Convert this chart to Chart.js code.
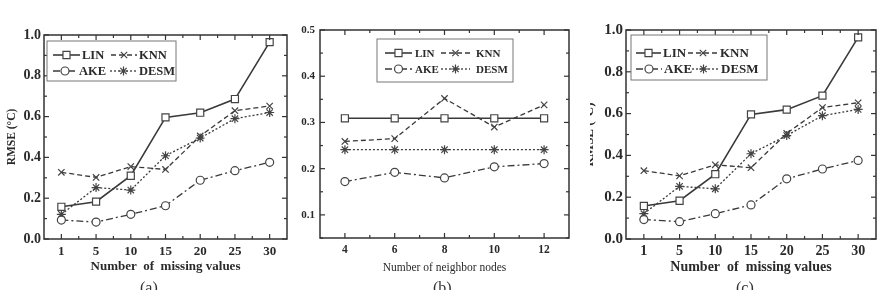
<!DOCTYPE html>
<html>
<head>
<meta charset="utf-8">
<script src="https://cdn.jsdelivr.net/npm/chart.js@4/dist/chart.umd.min.js"></script>
<style>
html, body { margin: 0; padding: 0; background: #fff; width: 886px; height: 290px; overflow: hidden; }
.panel { position: absolute; top: 0; height: 290px; overflow: hidden; }
.panel canvas { position: absolute; top: 0; }
.cap { position: absolute; top: 279px; font: 16px "Liberation Serif", serif; color: #333; }
</style>
</head>
<body>
<div class="panel" style="left:0;width:295px"><canvas id="chartA" width="295" height="290" style="left:0"></canvas></div>
<div class="panel" style="left:295px;width:295px"><canvas id="chartB" width="295" height="290" style="left:0"></canvas></div>
<div class="panel" style="left:590px;width:296px"><canvas id="chartC" width="304" height="290" style="left:-8px"></canvas></div>
<div class="cap" style="left:140px">(a)</div>
<div class="cap" style="left:433px">(b)</div>
<div class="cap" style="left:736px">(c)</div>
<script>
// panels (a) and (c): RMSE vs number of missing values
const missingCounts = ['1', '5', '10', '15', '20', '25', '30'];
const linMissing  = [0.158, 0.183, 0.31, 0.596, 0.619, 0.686, 0.965];
const knnMissing  = [0.327, 0.302, 0.355, 0.341, 0.505, 0.629, 0.652];
const akeMissing  = [0.093, 0.083, 0.121, 0.163, 0.288, 0.335, 0.376];
const desmMissing = [0.121, 0.252, 0.240, 0.408, 0.495, 0.590, 0.620];
const rmseTicksMissing = [0, 0.2, 0.4, 0.6, 0.8, 1.0];

// panel (b): RMSE vs number of neighbor nodes
const neighborCounts = ['4', '6', '8', '10', '12'];
const linNeighbor  = [0.309, 0.309, 0.309, 0.309, 0.309];
const knnNeighbor  = [0.259, 0.265, 0.352, 0.290, 0.338];
const akeNeighbor  = [0.172, 0.192, 0.180, 0.204, 0.211];
const desmNeighbor = [0.241, 0.241, 0.241, 0.241, 0.241];
const rmseTicksNeighbor = [0.1, 0.2, 0.3, 0.4, 0.5];

const methodNames = ['LIN', 'KNN', 'AKE', 'DESM'];

const LINE = '#3a3a3a';
const SERIF = '"Liberation Serif", "Times New Roman", serif';

const seriesStyle = {
    LIN:  { dash: [],           point: 'rect',     r: 5,   w: 1.6 },
    KNN:  { dash: [5, 3],       point: 'crossRot', r: 4.5, w: 1.3 },
    AKE:  { dash: [7, 3, 2, 3], point: 'circle',   r: 4,   w: 1.3 },
    DESM: { dash: [2, 2],       point: 'star',     r: 4.5, w: 1.3 }
};

function makeDatasets(values) {
    return methodNames.map((name, i) => {
        const s = seriesStyle[name];
        return {
            label: name,
            data: values[i],
            borderColor: LINE,
            borderWidth: s.w,
            borderDash: s.dash,
            pointStyle: s.point,
            pointRadius: s.r,
            pointBorderWidth: 1.2,
            pointBorderColor: '#444',
            pointBackgroundColor: '#fff',
            tension: 0,
            fill: false
        };
    });
}

// frame with inward ticks on all four sides + boxed legend with line samples
const framePlugin = {
    id: 'frame',
    afterDatasetsDraw(chart, args, opts) {
        const ctx = chart.ctx;
        const a = chart.chartArea;
        const xs = chart.scales.x, ys = chart.scales.y;
        ctx.save();
        ctx.strokeStyle = '#333';
        ctx.lineWidth = 1.5;
        ctx.setLineDash([]);
        ctx.strokeRect(a.left, a.top, a.right - a.left, a.bottom - a.top);

        ctx.lineWidth = 1.2;
        const yt = ys.ticks.map(t => t.value);
        const tick = (x0, y0, x1, y1) => { ctx.beginPath(); ctx.moveTo(x0, y0); ctx.lineTo(x1, y1); ctx.stroke(); };
        yt.forEach((v, i) => {
            const y = ys.getPixelForValue(v);
            tick(a.left, y, a.left + 5, y);
            tick(a.right, y, a.right - 5, y);
            const mid = i > 0 ? (v + yt[i - 1]) / 2 : v - (yt[1] - yt[0]) / 2;
            if (mid >= ys.min) {
                const ym = ys.getPixelForValue(mid);
                tick(a.left, ym, a.left + 3, ym);
                tick(a.right, ym, a.right - 3, ym);
            }
        });
        const n = chart.data.labels.length;
        for (let i = 0; i < n; i++) {
            const x = xs.getPixelForValue(i);
            tick(x, a.bottom, x, a.bottom - 5);
            tick(x, a.top, x, a.top + 5);
            if (i < n - 1) {
                const xm = (x + xs.getPixelForValue(i + 1)) / 2;
                tick(xm, a.bottom, xm, a.bottom - 3);
                tick(xm, a.top, xm, a.top + 3);
            }
        }

        // legend
        const L = opts.legend;
        ctx.fillStyle = '#fff';
        ctx.fillRect(L.box[0], L.box[1], L.box[2], L.box[3]);
        ctx.strokeStyle = '#777';
        ctx.lineWidth = 1;
        ctx.strokeRect(L.box[0], L.box[1], L.box[2], L.box[3]);
        ctx.font = L.font;
        ctx.textBaseline = 'middle';
        ctx.textAlign = 'left';
        chart.data.datasets.forEach((ds, i) => {
            const col = L.cols[i];
            const y = L.rows[Math.floor(i / 2)];
            ctx.strokeStyle = ds.borderColor;
            ctx.lineWidth = ds.borderWidth;
            ctx.setLineDash(ds.borderDash);
            tick(col[0], y, col[1], y);
            ctx.setLineDash([]);
            ctx.fillStyle = '#fff';
            ctx.strokeStyle = ds.pointBorderColor;
            ctx.lineWidth = ds.pointBorderWidth;
            Chart.helpers.drawPoint(ctx, {
                pointStyle: ds.pointStyle, radius: ds.pointRadius,
                borderWidth: ds.pointBorderWidth, rotation: 0
            }, (col[0] + col[1]) / 2, y);
            ctx.fillStyle = '#2a2a2a';
            ctx.fillText(ds.label, col[2], y + 1);
        });
        ctx.restore();
    }
};

function makeChart(id, cfg) {
    return new Chart(document.getElementById(id), {
        type: 'line',
        data: { labels: cfg.labels, datasets: makeDatasets(cfg.values) },
        options: {
            responsive: false,
            animation: false,
            events: [],
            layout: { padding: cfg.padding },
            plugins: {
                legend: { display: false },
                title: { display: false },
                tooltip: { enabled: false },
                frame: { legend: cfg.legend }
            },
            scales: {
                x: {
                    type: 'category',
                    offset: true,
                    grid: { display: false, drawTicks: false },
                    border: { display: false },
                    ticks: { color: '#2a2a2a', font: cfg.xTickFont, padding: cfg.xTickPad, maxRotation: 0 },
                    title: { display: true, text: cfg.xTitle, color: '#2a2a2a', font: cfg.xTitleFont,
                             padding: { top: 0, bottom: cfg.xTitleBottom } },
                    afterFit(s) { s.height = cfg.xHeight; }
                },
                y: {
                    min: cfg.yMin, max: cfg.yMax,
                    grid: { display: false, drawTicks: false },
                    border: { display: false },
                    afterBuildTicks(s) { s.ticks = cfg.yTicks.map(v => ({ value: v })); },
                    ticks: { color: '#2a2a2a', font: cfg.yTickFont, padding: cfg.yTickPad,
                             callback: v => v.toFixed(1) },
                    title: { display: !!cfg.yTitle, text: cfg.yTitle || '', color: '#2a2a2a',
                             font: cfg.yTitleFont, padding: { top: cfg.yTitlePad || 0, bottom: 0 } },
                    afterFit(s) { s.width = cfg.yWidth; }
                }
            }
        },
        plugins: [framePlugin]
    });
}

makeChart('chartA', {
    labels: missingCounts,
    values: [linMissing, knnMissing, akeMissing, desmMissing],
    yMin: 0, yMax: 1, yTicks: rmseTicksMissing,
    padding: { left: 0, right: 8, top: 35, bottom: 0 },
    yWidth: 44, xHeight: 51,
    xTickFont: { family: SERIF, size: 13, weight: 'bold' },
    yTickFont: { family: SERIF, size: 14, weight: 'bold' },
    xTickPad: 5, yTickPad: 3,
    xTitle: 'Number  of  missing values', xTitleFont: { family: SERIF, size: 13, weight: 'bold' }, xTitleBottom: 16,
    yTitle: 'RMSE (\u00B0C)', yTitleFont: { family: SERIF, size: 11.5, weight: 'bold' }, yTitlePad: 5,
    legend: { box: [47, 41, 129, 40], rows: [55, 71],
              cols: [[53, 80, 82], [111, 137, 139], [53, 77, 79], [110, 137, 139]],
              font: 'bold 12.5px ' + SERIF }
});

makeChart('chartB', {
    labels: neighborCounts,
    values: [linNeighbor, knnNeighbor, akeNeighbor, desmNeighbor],
    yMin: 0.05, yMax: 0.5, yTicks: rmseTicksNeighbor,
    padding: { left: 0, right: 21, top: 30, bottom: 0 },
    yWidth: 25, xHeight: 52,
    xTickFont: { family: SERIF, size: 11.5, weight: 'bold' },
    yTickFont: { family: SERIF, size: 11, weight: 'bold' },
    xTickPad: 5, yTickPad: 5,
    xTitle: 'Number of neighbor nodes', xTitleFont: { family: SERIF, size: 11.5 }, xTitleBottom: 15,
    legend: { box: [82, 39, 136, 43], rows: [53, 69],
              cols: [[90, 117, 120], [146, 175, 181], [90, 117, 120], [146, 175, 181]],
              font: 'bold 11px ' + SERIF }
});

makeChart('chartC', {
    labels: missingCounts,
    values: [linMissing, knnMissing, akeMissing, desmMissing],
    yMin: 0, yMax: 1, yTicks: rmseTicksMissing,
    padding: { left: 0, right: 10, top: 30, bottom: 0 },
    yWidth: 44, xHeight: 51,
    xTickFont: { family: SERIF, size: 14, weight: 'bold' },
    yTickFont: { family: SERIF, size: 15, weight: 'bold' },
    xTickPad: 4, yTickPad: 3,
    xTitle: 'Number  of  missing values', xTitleFont: { family: SERIF, size: 14, weight: 'bold' }, xTitleBottom: 14,
    yTitle: 'RMSE (\u00B0C)', yTitleFont: { family: SERIF, size: 13, weight: 'bold' }, yTitlePad: 0,
    legend: { box: [49, 35, 136, 45], rows: [53, 69],
              cols: [[54, 79, 81], [106, 136, 138], [54, 80, 82], [106, 137, 139]],
              font: 'bold 13px ' + SERIF }
});
</script>
</body>
</html>
